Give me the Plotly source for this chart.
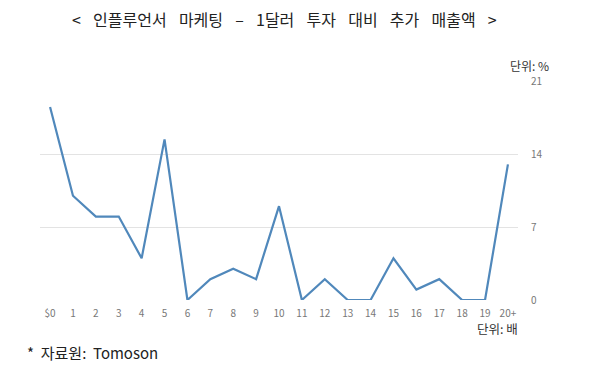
import plotly.graph_objects as go

categories = ["$0", "1", "2", "3", "4", "5", "6", "7", "8", "9", "10",
              "11", "12", "13", "14", "15", "16", "17", "18", "19", "20+"]
values = [18.5, 10, 8, 8, 4, 15.4, 0, 2, 3, 2, 9,
          0, 2, 0, 0, 4, 1, 2, 0, 0, 13]
y_ticks = [0, 7, 14, 21]

FONT = "Noto Sans CJK KR"
W, H = 606, 376
OFF = 8  # page body margin offset
# plot area in window pixels: x 40..518, y 81..300
ML, MT = 40 - OFF, 81 - OFF
MR, MB = W - (518 - OFF), H - (300 - OFF)
PW, PH = W - ML - MR, H - MT - MB


def px(x, y):
    # window pixel -> paper coords
    fx, fy = x - OFF, y - OFF
    return (fx - ML) / PW, ((H - fy) - MB) / PH


x_idx = list(range(len(categories)))

fig = go.Figure()
fig.add_trace(go.Scatter(
    x=x_idx, y=values, mode="lines",
    line=dict(color="#5088bb", width=2.2),
    hoverinfo="skip",
))


def ann(text, x, y, size, color, anchor):
    ax, ay = px(x, y)
    return dict(text=text, x=ax, y=ay, xref="paper", yref="paper",
                showarrow=False, font=dict(family=FONT, size=size, color=color),
                xanchor=anchor, yanchor="middle")


SP = "\u2002\u2009\u200a"
title = SP.join(["<", "인플루언서", "마케팅", "–", "1달러", "투자", "대비", "추가", "매출액", ">"])

fig.update_layout(
    width=W, height=H,
    margin=dict(l=ML, r=MR, t=MT, b=MB, autoexpand=False),
    paper_bgcolor="white", plot_bgcolor="white",
    showlegend=False,
    font=dict(family=FONT, color="#777777", size=10),
    xaxis=dict(
        tickmode="array", tickvals=x_idx, ticktext=categories,
        range=[-0.44, 20.44], showgrid=False, zeroline=False,
        showline=False, ticks="", ticklabelstandoff=6,
        tickfont=dict(size=10, color="#777777"),
        fixedrange=True,
    ),
    yaxis=dict(
        side="right", tickmode="array", tickvals=y_ticks,
        range=[0, 21], showgrid=True, gridcolor="#e3e3e3", gridwidth=1,
        zeroline=False, showline=False, ticks="", ticklabelstandoff=12,
        tickfont=dict(size=10, color="#777777"),
        fixedrange=True,
    ),
    annotations=[
        ann(title, 284, 19, 16, "#222222", "center"),
        ann("단위: %", 529, 65, 12, "#333333", "center"),
        ann("단위: 배", 497, 328, 12.5, "#333333", "center"),
        ann("*  자료원:  Tomoson", 25, 352, 15, "#222222", "left"),
    ],
)

fig.write_html("out.html", config={"displayModeBar": False})
